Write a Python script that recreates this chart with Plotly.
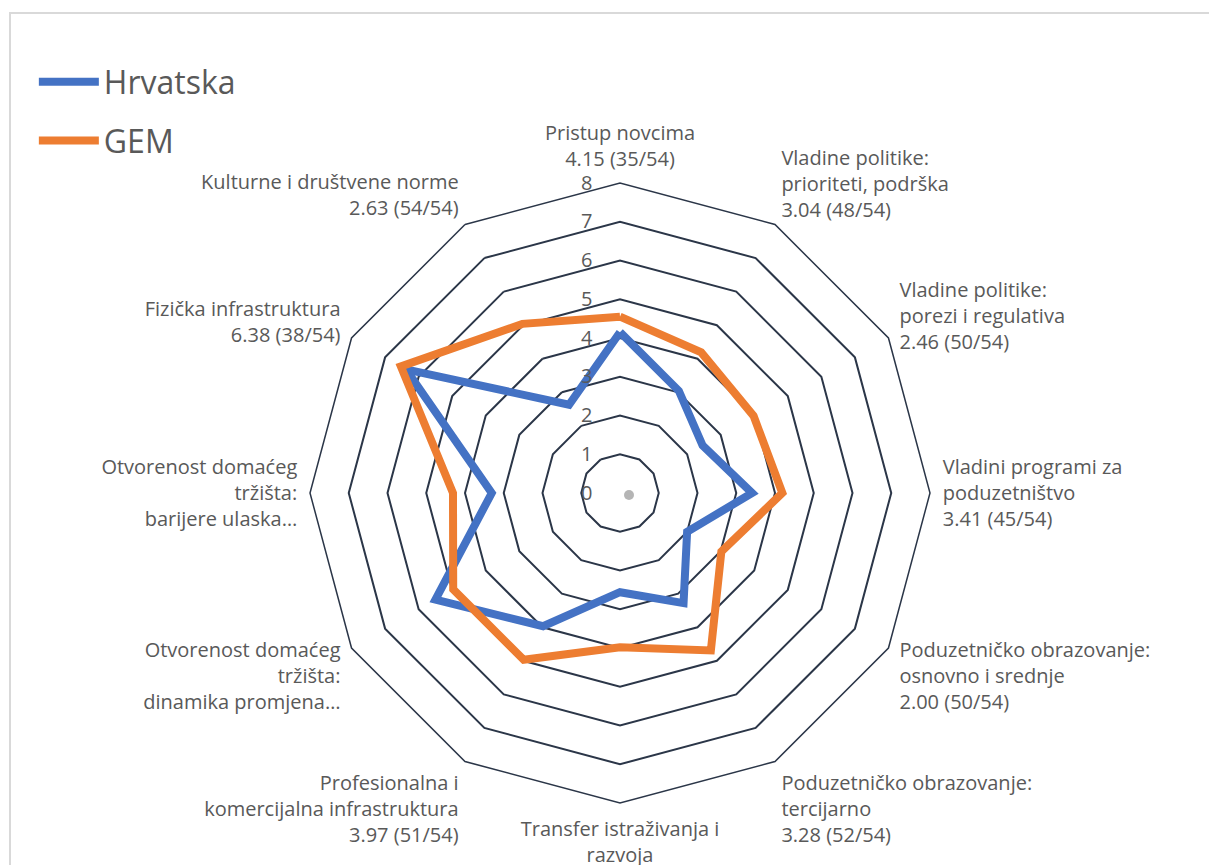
import plotly.graph_objects as go

# Pillar labels, clockwise from the top
categories = [
    "Pristup novcima<br>4.15 (35/54)",
    "Vladine politike:<br>prioriteti, podrška<br>3.04 (48/54)",
    "Vladine politike:<br>porezi i regulativa<br>2.46 (50/54)",
    "Vladini programi za<br>poduzetništvo<br>3.41 (45/54)",
    "Poduzetničko obrazovanje:<br>osnovno i srednje<br>2.00 (50/54)",
    "Poduzetničko obrazovanje:<br>tercijarno<br>3.28 (52/54)",
    "Transfer istraživanja i<br>razvoja",
    "Profesionalna i<br>komercijalna infrastruktura<br>3.97 (51/54)",
    "Otvorenost domaćeg<br>tržišta:<br>dinamika promjena…",
    "Otvorenost domaćeg<br>tržišta:<br>barijere ulaska…",
    "Fizička infrastruktura<br>6.38 (38/54)",
    "Kulturne i društvene norme<br>2.63 (54/54)",
]

hrvatska = [4.15, 3.04, 2.46, 3.41, 2.00, 3.28, 2.56, 3.97, 5.50, 3.31, 6.38, 2.63]
gem = [4.55, 4.19, 3.98, 4.19, 3.02, 4.69, 3.98, 4.97, 4.97, 4.31, 6.53, 5.04]

radial_ticks = [0, 1, 2, 3, 4, 5, 6, 7, 8]

W, H = 1209, 865
GRID = "#2b3648"
TEXT = "#595959"


def closed(values):
    return values + values[:1]


fig = go.Figure()
fig.add_trace(go.Scatterpolar(
    r=closed(hrvatska), theta=closed(categories), mode="lines",
    name="Hrvatska", legendgroup="hr", line=dict(color="#4472C4", width=8),
))
fig.add_trace(go.Scatterpolar(
    r=closed(gem), theta=closed(categories), mode="lines",
    name="GEM", legendgroup="gem", line=dict(color="#ED7D31", width=8),
))

# Polar area: centre (620, 493) px, outer radius 310 px
cx, cy, rad = 620, 493, 310
fig.update_layout(
    width=W, height=H,
    margin=dict(l=0, r=0, t=0, b=0),
    paper_bgcolor="white",
    font=dict(family="Open Sans, Noto Sans, sans-serif", color=TEXT),
    polar=dict(
        domain=dict(x=[(cx - rad) / W, (cx + rad) / W],
                    y=[(H - cy - rad) / H, (H - cy + rad) / H]),
        gridshape="linear",
        bgcolor="white",
        radialaxis=dict(
            range=[0, 8], tickvals=radial_ticks, angle=90, tickangle=90,
            side="counterclockwise", showline=False,
            # invisible ticks move the value labels left of the axis
            ticks="outside", ticklen=20, tickcolor="rgba(0,0,0,0)",
            gridcolor=GRID, gridwidth=1.5,
            tickfont=dict(size=20, color=TEXT),
        ),
        angularaxis=dict(
            direction="clockwise", rotation=90,
            showgrid=False, showline=True, linecolor=GRID, linewidth=1.5,
            # invisible ticks push the labels away from the outer ring
            ticks="outside", ticklen=8, tickcolor="rgba(0,0,0,0)",
            tickfont=dict(size=20, color=TEXT),
        ),
    ),
    legend=dict(
        x=0.028, y=0.937, xanchor="left", yanchor="top",
        font=dict(size=32, color=TEXT),
        itemwidth=60, tracegroupgap=14,
        bgcolor="rgba(0,0,0,0)",
    ),
    shapes=[
        # chart frame
        dict(type="rect", xref="paper", yref="paper",
             x0=10 / W, x1=1.02, y0=-0.02, y1=(H - 13) / H,
             line=dict(color="#d9d9d9", width=2), fillcolor="rgba(0,0,0,0)",
             layer="below"),
        # faint dot near the centre
        dict(type="circle", xref="paper", yref="paper",
             x0=624 / W, x1=634 / W, y0=(H - 500) / H, y1=(H - 490) / H,
             line=dict(width=0), fillcolor="rgba(120,120,120,0.55)"),
    ],
)

fig.write_html("out.html")
